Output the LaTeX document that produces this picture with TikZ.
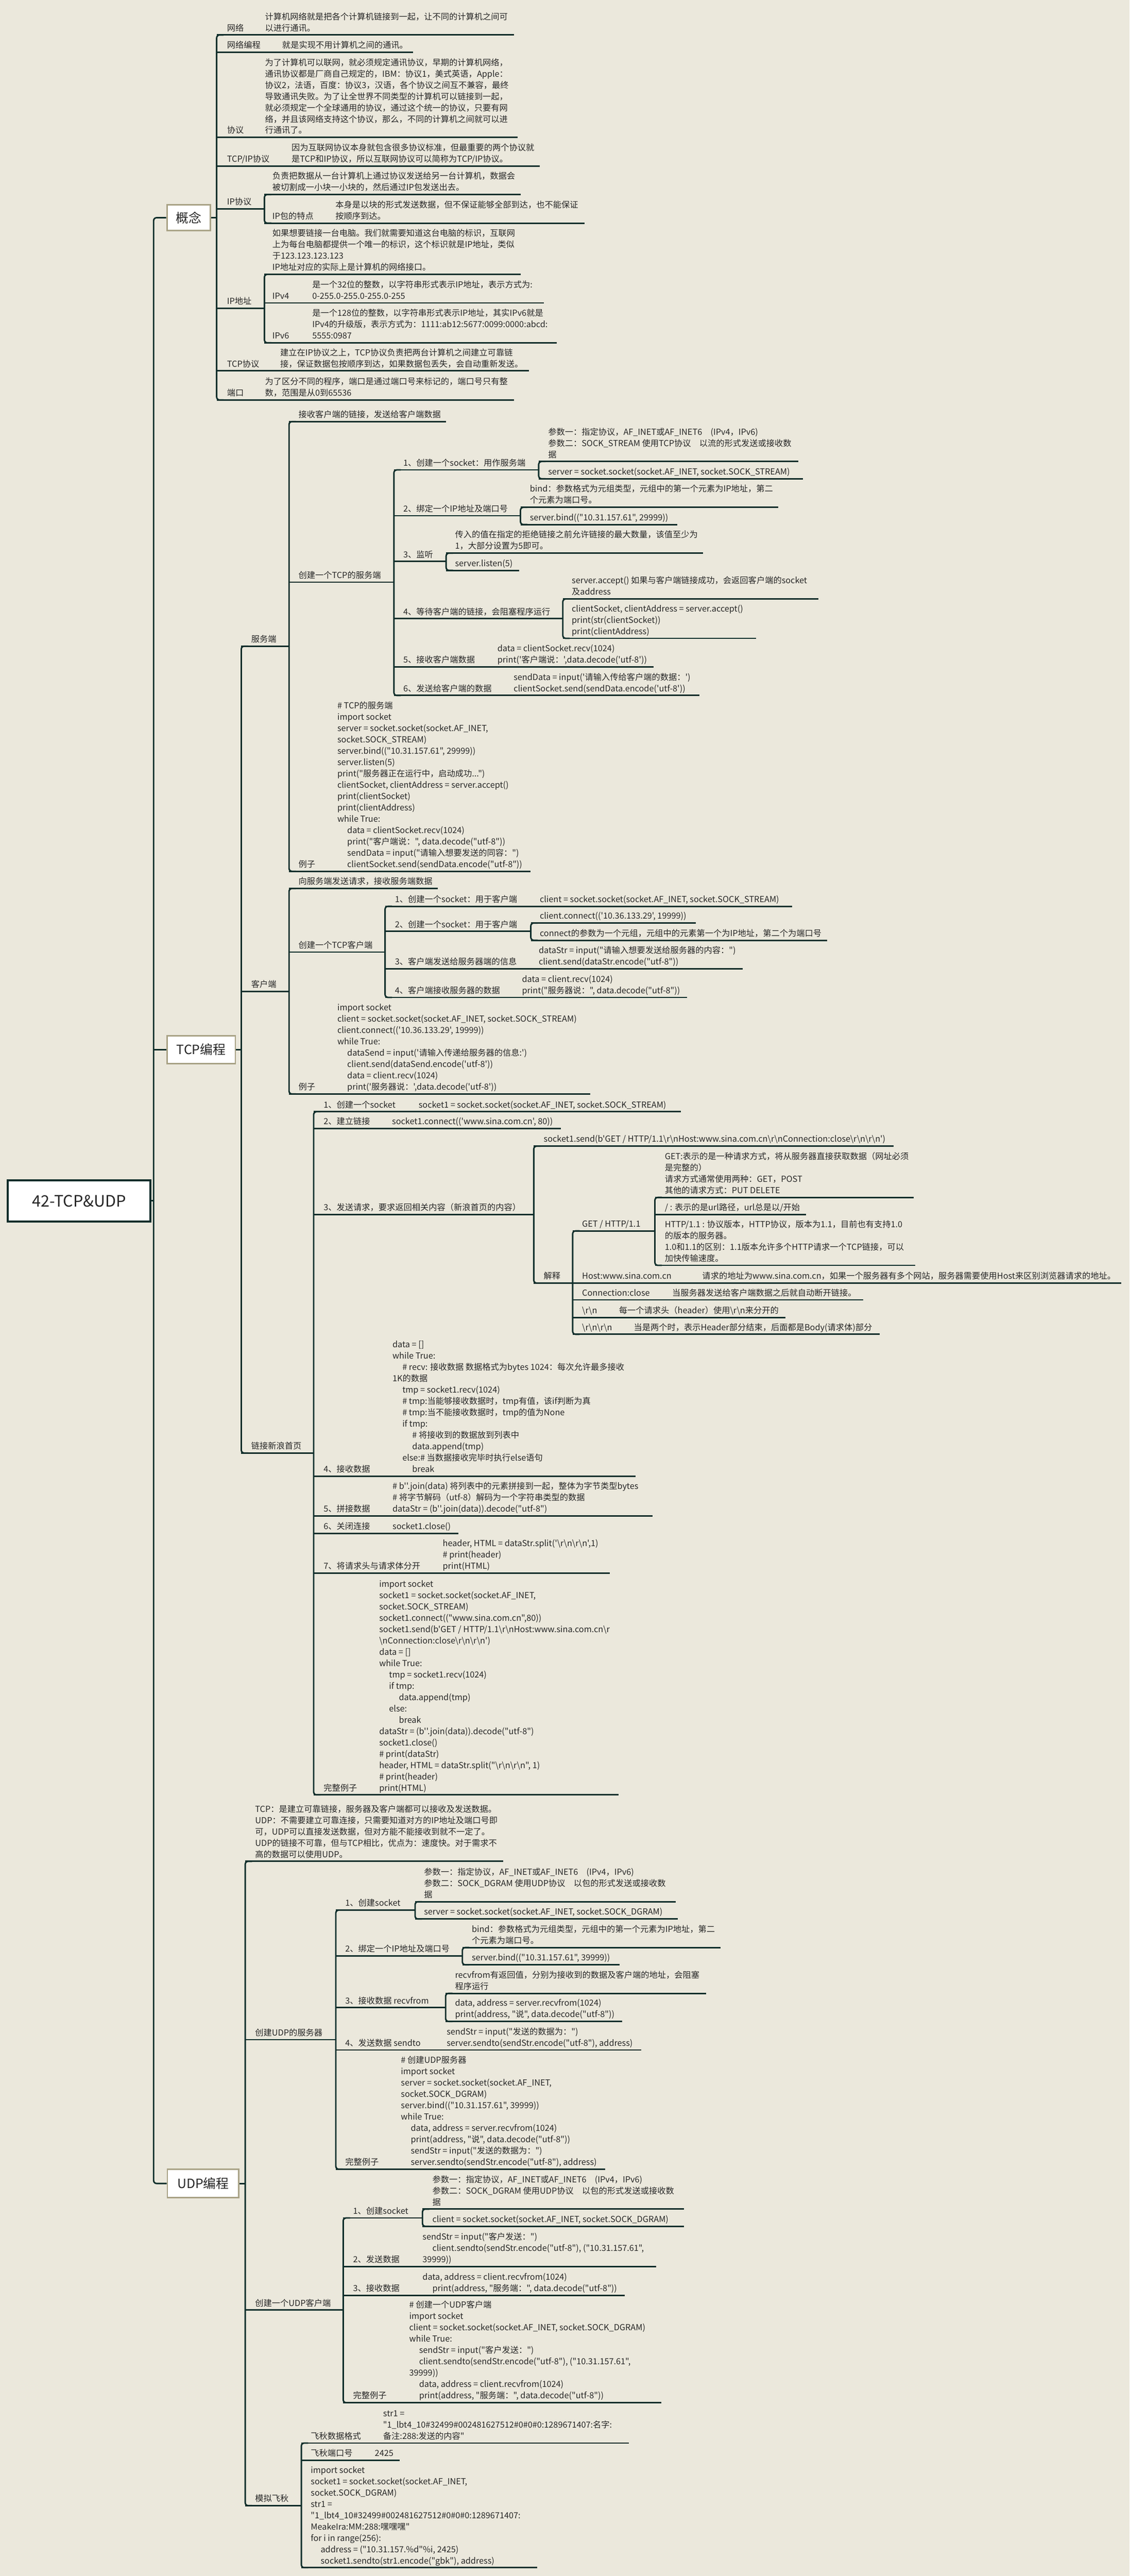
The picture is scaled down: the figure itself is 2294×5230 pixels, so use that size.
\documentclass[tikz,border=0pt]{standalone}
\usepackage{fontspec}
\setmainfont{Noto Sans CJK SC}[Ligatures=TeXOff]
\definecolor{bg}{HTML}{EBE8DC}
\definecolor{lnc}{HTML}{0F2E2B}
\definecolor{tx}{HTML}{262626}
\definecolor{kh}{HTML}{A8A285}
\newcommand\BS{\textbackslash}
\newcommand\ind{\hspace*{20pt}}
\newcommand\T[4]{\node[txt] (#1) at (#2,#3-1) {#4\strut};}
\newcommand\U[3]{\draw[ln] (#1,#3) -- (#2,#3);}
\newcommand\B[3]{\draw[ln,rounded corners=6pt] (#1+14,#2) -- (#1,#2) -- (#1,#3) -- (#1+14,#3);}
\tikzset{
 txt/.style={anchor=south west,inner sep=0pt,align=left,font=\fontsize{17}{23}\selectfont,text=tx},
 ln/.style={line width=3pt,draw=lnc},
 lvl/.style={draw=kh,line width=3pt,fill=white,inner sep=0pt,font=\fontsize{26}{30}\selectfont,text=tx},
}
\begin{document}
\begin{tikzpicture}[x=1pt,y=-1pt]
\fill[bg] (0,0) rectangle (2294,5230);
\useasboundingbox (0,0) rectangle (2294,5230);
% root and level 1
\node[draw=lnc,line width=4pt,fill=white,minimum width=289pt,minimum height=84pt,font=\fontsize{32}{36}\selectfont,text=tx] (root) at (160.5,2438) {42-TCP\&UDP};
\node[lvl,minimum width=88pt,minimum height=53pt] (c1) at (383,442) {概念};
\node[lvl,minimum width=139pt,minimum height=56pt] (c2) at (408.5,2131) {TCP编程};
\node[lvl,minimum width=145pt,minimum height=57pt] (c3) at (412.5,4433) {UDP编程};
\draw[ln] (root.east) -- (312,2438);
\draw[ln,rounded corners=6pt] (c1.west) -- (312,442) -- (312,4433) -- (c3.west);
\draw[ln] (312,2131) -- (c2.west);
\draw[ln] (c1.east) -- (440,442);
\draw[ln] (c2.east) -- (490,2131);
\draw[ln] (c3.east) -- (498,4433);

% ================= 概念 =================
\B{440}{71}{812}
\U{440}{1044}{71} \T{a1}{461}{71}{网络}
\T{a1t}{538}{71}{计算机网络就是把各个计算机链接到一起，让不同的计算机之间可\\以进行通讯。}
\U{440}{839}{106} \T{a2}{461}{106}{网络编程} \T{a2t}{573}{106}{就是实现不用计算机之间的通讯。}
\U{440}{1051}{279} \T{a3}{461}{279}{协议}
\T{a3t}{538}{279}{为了计算机可以联网，就必须规定通讯协议，早期的计算机网络，\\通讯协议都是厂商自己规定的，IBM：协议1，美式英语，Apple：\\协议2，法语，百度：协议3，汉语，各个协议之间互不兼容，最终\\导致通讯失败。为了让全世界不同类型的计算机可以链接到一起，\\就必须规定一个全球通用的协议，通过这个统一的协议，只要有网\\络，并且该网络支持这个协议，那么，不同的计算机之间就可以进\\行通讯了。}
\U{440}{1096}{337} \T{a4}{461}{337}{TCP/IP协议}
\T{a4t}{592}{337}{因为互联网协议本身就包含很多协议标准，但最重要的两个协议就\\是TCP和IP协议，所以互联网协议可以简称为TCP/IP协议。}
\U{440}{537}{424} \T{a5}{461}{424}{IP协议}
\B{537}{395}{453}
\U{537}{1058}{395} \T{a5a}{553}{395}{负责把数据从一台计算机上通过协议发送给另一台计算机，数据会\\被切割成一小块一小块的，然后通过IP包发送出去。}
\U{537}{1187}{453} \T{a5b}{553}{453}{IP包的特点}
\T{a5bt}{681}{453}{本身是以块的形式发送数据，但不保证能够全部到达，也不能保证\\按顺序到达。}
\U{440}{537}{626} \T{a6}{461}{626}{IP地址}
\B{537}{557}{696}
\U{537}{1058}{557} \T{a6a}{553}{557}{如果想要链接一台电脑。我们就需要知道这台电脑的标识，互联网\\上为每台电脑都提供一个唯一的标识，这个标识就是IP地址，类似\\于123.123.123.123\\IP地址对应的实际上是计算机的网络接口。}
\U{537}{1105}{615} \T{a6b}{553}{615}{IPv4}
\T{a6bt}{634}{615}{是一个32位的整数，以字符串形式表示IP地址，表示方式为:\\0-255.0-255.0-255.0-255}
\U{537}{1131}{696} \T{a6c}{553}{696}{IPv6}
\T{a6ct}{634}{696}{是一个128位的整数，以字符串形式表示IP地址，其实IPv6就是\\IPv4的升级版，表示方式为：1111:ab12:5677:0099:0000:abcd:\\5555:0987}
\U{440}{1074}{753} \T{a7}{461}{753}{TCP协议}
\T{a7t}{569}{753}{建立在IP协议之上，TCP协议负责把两台计算机之间建立可靠链\\接，保证数据包按顺序到达，如果数据包丢失，会自动重新发送。}
\U{440}{1044}{812} \T{a8}{461}{812}{端口}
\T{a8t}{538}{812}{为了区分不同的程序，端口是通过端口号来标记的，端口号只有整\\数，范围是从0到65536}

% ================= TCP编程 =================
\B{490}{1312}{2950}
% 服务端
\U{490}{587}{1312} \T{s0}{510}{1312}{服务端}
\B{587}{856}{1769}
\U{587}{906}{856} \T{s1}{606}{856}{接收客户端的链接，发送给客户端数据}
\U{587}{800}{1182} \T{s2}{606}{1182}{创建一个TCP的服务端}
\B{800}{954}{1412}
\U{800}{1094}{954} \T{s21}{819}{954}{1、创建一个socket：用作服务端}
\B{1094}{937}{972}
\U{1094}{1621}{937} \T{s21a}{1113}{937}{参数一：指定协议，AF\_INET或AF\_INET6　(IPv4，IPv6)\\参数二：SOCK\_STREAM 使用TCP协议　以流的形式发送或接收数\\据}
\U{1094}{1631}{972} \T{s21b}{1113}{972}{server = socket.socket(socket.AF\_INET, socket.SOCK\_STREAM)}
\U{800}{1057}{1047} \T{s22}{819}{1047}{2、绑定一个IP地址及端口号}
\B{1057}{1030}{1065}
\U{1057}{1580}{1030} \T{s22a}{1076}{1030}{bind：参数格式为元组类型，元组中的第一个元素为IP地址，第二\\个元素为端口号。}
\U{1057}{1375}{1065} \T{s22b}{1076}{1065}{server.bind(("10.31.157.61", 29999))}
\U{800}{906}{1140} \T{s23}{819}{1140}{3、监听}
\B{906}{1123}{1158}
\U{906}{1428}{1123} \T{s23a}{924}{1123}{传入的值在指定的拒绝链接之前允许链接的最大数量，该值至少为\\1，大部分设置为5即可。}
\U{906}{1054}{1158} \T{s23b}{924}{1158}{server.listen(5)}
\U{800}{1143}{1256} \T{s24}{819}{1256}{4、等待客户端的链接，会阻塞程序运行}
\B{1143}{1216}{1296}
\U{1143}{1662}{1216} \T{s24a}{1161}{1216}{server.accept()  如果与客户端链接成功，会返回客户端的socket\\及address}
\U{1143}{1536}{1296} \T{s24b}{1161}{1296}{clientSocket, clientAddress = server.accept()\\print(str(clientSocket))\\print(clientAddress)}
\U{800}{1327}{1354} \T{s25}{819}{1354}{5、接收客户端数据}
\T{s25t}{1010}{1354}{data = clientSocket.recv(1024)\\print('客户端说：',data.decode('utf-8'))}
\U{800}{1420}{1412} \T{s26}{819}{1412}{6、发送给客户端的数据}
\T{s26t}{1043}{1412}{sendData = input('请输入传给客户端的数据：')\\clientSocket.send(sendData.encode('utf-8'))}
\U{587}{1077}{1769} \T{s3}{606}{1769}{例子}
\T{s3t}{685}{1769}{\# TCP的服务端\\import socket\\server = socket.socket(socket.AF\_INET,\\socket.SOCK\_STREAM)\\server.bind(("10.31.157.61", 29999))\\server.listen(5)\\print("服务器正在运行中，启动成功...")\\clientSocket, clientAddress = server.accept()\\print(clientSocket)\\print(clientAddress)\\while True:\\\ind data = clientSocket.recv(1024)\\\ind print("客户端说：", data.decode("utf-8"))\\\ind sendData = input("请输入想要发送的同容：")\\\ind clientSocket.send(sendData.encode("utf-8"))}
% 客户端
\U{490}{587}{2013} \T{k0}{510}{2013}{客户端}
\B{587}{1804}{2221}
\U{587}{889}{1804} \T{k1}{606}{1804}{向服务端发送请求，接收服务端数据}
\U{587}{782}{1933} \T{k2}{606}{1933}{创建一个TCP客户端}
\B{782}{1840}{2025}
\U{782}{1609}{1840} \T{k21}{802}{1840}{1、创建一个socket：用于客户端}
\T{k21t}{1096}{1840}{client = socket.socket(socket.AF\_INET, socket.SOCK\_STREAM)}
\U{782}{1078}{1891} \T{k22}{802}{1891}{2、创建一个socket：用于客户端}
\B{1078}{1874}{1909}
\U{1078}{1413}{1874} \T{k22a}{1096}{1874}{client.connect(('10.36.133.29', 19999))}
\U{1078}{1680}{1909} \T{k22b}{1096}{1909}{connect的参数为一个元组，元组中的元素第一个为IP地址，第二个为端口号}
\U{782}{1508}{1967} \T{k23}{802}{1967}{3、客户端发送给服务器端的信息}
\T{k23t}{1094}{1967}{dataStr = input("请输入想要发送给服务器的内容：")\\client.send(dataStr.encode("utf-8"))}
\U{782}{1395}{2025} \T{k24}{802}{2025}{4、客户端接收服务器的数据}
\T{k24t}{1060}{2025}{data = client.recv(1024)\\print("服务器说：", data.decode("utf-8"))}
\U{587}{1199}{2221} \T{k3}{606}{2221}{例子}
\T{k3t}{685}{2221}{import socket\\client = socket.socket(socket.AF\_INET, socket.SOCK\_STREAM)\\client.connect(('10.36.133.29', 19999))\\while True:\\\ind dataSend = input('请输入传递给服务器的信息:')\\\ind client.send(dataSend.encode('utf-8'))\\\ind data = client.recv(1024)\\\ind print('服务器说：',data.decode('utf-8'))}
% 链接新浪首页
\U{490}{637}{2950} \T{w0}{510}{2950}{链接新浪首页}
\B{637}{2257}{3644}
\U{637}{1383}{2257} \T{w1}{657}{2257}{1、创建一个socket}
\T{w1t}{850}{2257}{socket1 = socket.socket(socket.AF\_INET, socket.SOCK\_STREAM)}
\U{637}{1139}{2291} \T{w2}{657}{2291}{2、建立链接}
\T{w2t}{796}{2291}{socket1.connect(('www.sina.com.cn', 80))}
\U{637}{1084}{2466} \T{w3}{657}{2466}{3、发送请求，要求返回相关内容（新浪首页的内容）}
\B{1084}{2327}{2605}
\U{1084}{1815}{2327} \T{w3a}{1104}{2327}{socket1.send(b'GET / HTTP/1.1\BS r\BS nHost:www.sina.com.cn\BS r\BS nConnection:close\BS r\BS n\BS r\BS n')}
\U{1084}{1163}{2605} \T{w3b}{1104}{2605}{解释}
\B{1163}{2499}{2709}
\U{1163}{1330}{2499} \T{h1}{1182}{2499}{GET / HTTP/1.1}
\B{1330}{2431}{2569}
\U{1330}{1856}{2431} \T{h1a}{1350}{2431}{GET:表示的是一种请求方式，将从服务器直接获取数据（网址必须\\是完整的）\\请求方式通常使用两种：GET，POST\\其他的请求方式：PUT  DELETE}
\U{1330}{1637}{2466} \T{h1b}{1350}{2466}{/ : 表示的是url路径，url总是以/开始}
\U{1330}{1859}{2569} \T{h1c}{1350}{2569}{HTTP/1.1 : 协议版本，HTTP协议，版本为1.1，目前也有支持1.0\\的版本的服务器。\\1.0和1.1的区别：1.1版本允许多个HTTP请求一个TCP链接，可以\\加快传输速度。}
\U{1163}{2277}{2605} \T{h2}{1182}{2605}{Host:www.sina.com.cn}
\T{h2t}{1426}{2605}{请求的地址为www.sina.com.cn，如果一个服务器有多个网站，服务器需要使用Host来区别浏览器请求的地址。}
\U{1163}{1753}{2639} \T{h3}{1182}{2639}{Connection:close}
\T{h3t}{1365}{2639}{当服务器发送给客户端数据之后就自动断开链接。}
\U{1163}{1595}{2675} \T{h4}{1182}{2675}{\BS r\BS n}
\T{h4t}{1257}{2675}{每一个请求头（header）使用\BS r\BS n来分开的}
\U{1163}{1787}{2709} \T{h5}{1182}{2709}{\BS r\BS n\BS r\BS n}
\T{h5t}{1287}{2709}{当是两个时，表示Header部分结束，后面都是Body(请求体)部分}
\U{637}{1291}{2997} \T{w4}{657}{2997}{4、接收数据}
\T{w4t}{797}{2997}{data = []\\while True:\\\ind \# recv: 接收数据  数据格式为bytes 1024：每次允许最多接收\\1K的数据\\\ind tmp = socket1.recv(1024)\\\ind \# tmp:当能够接收数据时，tmp有值，该if判断为真\\\ind \# tmp:当不能接收数据时，tmp的值为None\\\ind if tmp:\\\ind\ind \# 将接收到的数据放到列表中\\\ind\ind data.append(tmp)\\\ind else:\# 当数据接收完毕时执行else语句\\\ind\ind break}
\U{637}{1325}{3078} \T{w5}{657}{3078}{5、拼接数据}
\T{w5t}{797}{3078}{\# b''.join(data)  将列表中的元素拼接到一起，整体为字节类型bytes\\\# 将字节解码（utf-8）解码为一个字符串类型的数据\\dataStr = (b''.join(data)).decode("utf-8")}
\U{637}{931}{3113} \T{w6}{657}{3113}{6、关闭连接} \T{w6t}{797}{3113}{socket1.close()}
\U{637}{1238}{3194} \T{w7}{657}{3194}{7、将请求头与请求体分开}
\T{w7t}{899}{3194}{header, HTML = dataStr.split('\BS r\BS n\BS r\BS n',1)\\\# print(header)\\print(HTML)}
\U{637}{1256}{3644} \T{w8}{657}{3644}{完整例子}
\T{w8t}{770}{3644}{import socket\\socket1 = socket.socket(socket.AF\_INET,\\socket.SOCK\_STREAM)\\socket1.connect(("www.sina.com.cn",80))\\socket1.send(b'GET / HTTP/1.1\BS r\BS nHost:www.sina.com.cn\BS r\\\BS nConnection:close\BS r\BS n\BS r\BS n')\\data = []\\while True:\\\ind tmp = socket1.recv(1024)\\\ind if tmp:\\\ind\ind data.append(tmp)\\\ind else:\\\ind\ind break\\dataStr = (b''.join(data)).decode("utf-8")\\socket1.close()\\\# print(dataStr)\\header, HTML = dataStr.split("\BS r\BS n\BS r\BS n", 1)\\\# print(header)\\print(HTML)}

% ================= UDP编程 =================
\B{498}{3779}{5087}
\U{498}{1022}{3779} \T{u1}{518}{3779}{TCP：是建立可靠链接，服务器及客户端都可以接收及发送数据。\\UDP：不需要建立可靠连接，只需要知道对方的IP地址及端口号即\\可，UDP可以直接发送数据，但对方能不能接收到就不一定了。\\UDP的链接不可靠，但与TCP相比，优点为：速度快。对于需求不\\高的数据可以使用UDP。}
\U{498}{682}{4141} \T{u2}{518}{4141}{创建UDP的服务器}
\B{682}{3878}{4404}
\U{682}{843}{3878} \T{u21}{701}{3878}{1、创建socket}
\B{843}{3861}{3896}
\U{843}{1372}{3861} \T{u21a}{861}{3861}{参数一：指定协议，AF\_INET或AF\_INET6　(IPv4，IPv6)\\参数二：SOCK\_DGRAM 使用UDP协议　以包的形式发送或接收数\\据}
\U{843}{1376}{3896} \T{u21b}{861}{3896}{server = socket.socket(socket.AF\_INET, socket.SOCK\_DGRAM)}
\U{682}{939}{3971} \T{u22}{701}{3971}{2、绑定一个IP地址及端口号}
\B{939}{3954}{3989}
\U{939}{1463}{3954} \T{u22a}{958}{3954}{bind：参数格式为元组类型，元组中的第一个元素为IP地址，第二\\个元素为端口号。}
\U{939}{1258}{3989} \T{u22b}{958}{3989}{server.bind(("10.31.157.61", 39999))}
\U{682}{905}{4076} \T{u23}{701}{4076}{3、接收数据  recvfrom}
\B{905}{4047}{4104}
\U{905}{1434}{4047} \T{u23a}{924}{4047}{recvfrom有返回值，分别为接收到的数据及客户端的地址，会阻塞\\程序运行}
\U{905}{1264}{4104} \T{u23b}{924}{4104}{data, address = server.recvfrom(1024)\\print(address, "说", data.decode("utf-8"))}
\U{682}{1302}{4162} \T{u24}{701}{4162}{4、发送数据  sendto}
\T{u24t}{907}{4162}{sendStr = input("发送的数据为：")\\server.sendto(sendStr.encode("utf-8"), address)}
\U{682}{1229}{4404} \T{u25}{701}{4404}{完整例子}
\T{u25t}{814}{4404}{\# 创建UDP服务器\\import socket\\server = socket.socket(socket.AF\_INET,\\socket.SOCK\_DGRAM)\\server.bind(("10.31.157.61", 39999))\\while True:\\\ind data, address = server.recvfrom(1024)\\\ind print(address, "说", data.decode("utf-8"))\\\ind sendStr = input("发送的数据为：")\\\ind server.sendto(sendStr.encode("utf-8"), address)}
\U{498}{697}{4690} \T{u3}{518}{4690}{创建一个UDP客户端}
\B{697}{4503}{4878}
\U{697}{858}{4503} \T{u31}{717}{4503}{1、创建socket}
\B{858}{4485}{4520}
\U{858}{1389}{4485} \T{u31a}{878}{4485}{参数一：指定协议，AF\_INET或AF\_INET6　(IPv4，IPv6)\\参数二：SOCK\_DGRAM 使用UDP协议　以包的形式发送或接收数\\据}
\U{858}{1389}{4520} \T{u31b}{878}{4520}{client = socket.socket(socket.AF\_INET, socket.SOCK\_DGRAM)}
\U{697}{1333}{4602} \T{u32}{717}{4602}{2、发送数据}
\T{u32t}{858}{4602}{sendStr = input("客户发送：")\\\ind client.sendto(sendStr.encode("utf-8"), ("10.31.157.61",\\39999))}
\U{697}{1269}{4660} \T{u33}{717}{4660}{3、接收数据}
\T{u33t}{858}{4660}{data, address = client.recvfrom(1024)\\\ind print(address, "服务端：", data.decode("utf-8"))}
\U{697}{1343}{4878} \T{u34}{717}{4878}{完整例子}
\T{u34t}{831}{4878}{\# 创建一个UDP客户端\\import socket\\client = socket.socket(socket.AF\_INET, socket.SOCK\_DGRAM)\\while True:\\\ind sendStr = input("客户发送：")\\\ind client.sendto(sendStr.encode("utf-8"), ("10.31.157.61",\\39999))\\\ind data, address = client.recvfrom(1024)\\\ind print(address, "服务端：", data.decode("utf-8"))}
\U{498}{612}{5087} \T{u4}{518}{5087}{模拟飞秋}
\B{612}{4960}{5213}
\U{612}{1277}{4960} \T{u41}{631}{4960}{飞秋数据格式}
\T{u41t}{778}{4960}{str1 =\\"1\_lbt4\_10\#32499\#002481627512\#0\#0\#0:1289671407:名字:\\备注:288:发送的内容"}
\U{612}{812}{4995} \T{u42}{631}{4995}{飞秋端口号} \T{u42t}{761}{4995}{2425}
\U{612}{1091}{5213} \T{u43}{631}{5213}{import socket\\socket1 = socket.socket(socket.AF\_INET,\\socket.SOCK\_DGRAM)\\str1 =\\"1\_lbt4\_10\#32499\#002481627512\#0\#0\#0:1289671407:\\MeakeIra:MM:288:嘿嘿嘿"\\for i in range(256):\\\ind address = ("10.31.157.\%d"\%i, 2425)\\\ind socket1.sendto(str1.encode("gbk"), address)}
\end{tikzpicture}
\end{document}
